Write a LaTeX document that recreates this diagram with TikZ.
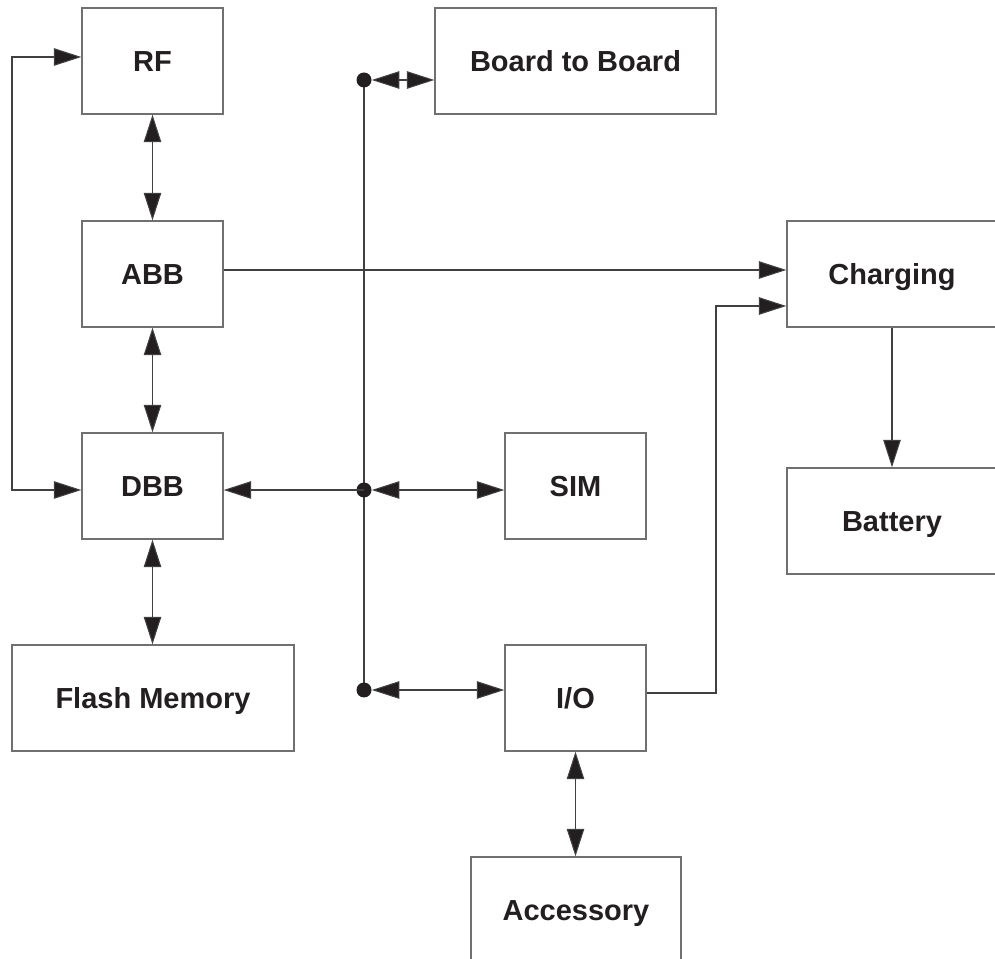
\documentclass[tikz,border=0pt]{standalone}
\usepackage{fontspec}
\setmainfont{Liberation Sans}
\usetikzlibrary{arrows.meta,calc}
\definecolor{ink}{HTML}{231F20}
\definecolor{boxline}{HTML}{707070}
\definecolor{wire}{HTML}{404040}
\tikzset{
  box/.style={draw=boxline, line width=0.8pt, rectangle, inner sep=0pt,
    minimum width=2.82cm, minimum height=2.12cm, text height=12pt, text depth=0pt,
    font=\fontsize{16.5}{19}\selectfont\bfseries, text=ink},
  tri/.tip={Triangle[length=0.55cm,width=0.35cm]},
  wireline/.style={draw=wire, line width=0.6pt},
  one/.style={wireline, -{tri[fill=ink]}},
  both/.style={wireline, {tri[fill=ink]}-{tri[fill=ink]}},
  dotnode/.style={circle, fill=ink, inner sep=0pt, minimum size=0.3cm}
}
\begin{document}
\begin{tikzpicture}[x=0.02cm, y=-0.02cm]
\useasboundingbox (0,0) rectangle (995,959);
\clip (0,0) rectangle (995,959);
% boxes
\node[box] (rf) at (152.5,61) {RF};
\node[box, minimum width=5.62cm] (btb) at (575.5,61) {Board to Board};
\node[box] (abb) at (152.5,274) {ABB};
\node[box, minimum width=4.2cm] (chg) at (892,274) {Charging};
\node[box] (dbb) at (152.5,486) {DBB};
\node[box] (sim) at (575.5,486) {SIM};
\node[box, minimum width=4.2cm] (bat) at (892,521) {Battery};
\node[box, minimum width=5.64cm] (flash) at (153,698) {Flash Memory};
\node[box] (io) at (575.5,698) {I/O};
\node[box, minimum width=4.2cm] (acc) at (576,910) {Accessory};
% bus
\coordinate (b1) at (364,80);
\coordinate (b2) at (364,490);
\coordinate (b3) at (364,690);
\draw[wireline] (b1) -- (b3);
\node[dotnode] (d1) at (b1) {};
\node[dotnode] (d2) at (b2) {};
\node[dotnode] (d3) at (b3) {};
% vertical links
\draw[both] (rf.south) -- (abb.north);
\draw[both] (abb.south) -- (dbb.north);
\draw[both] (dbb.south) -- (flash.north -| dbb.south);
\draw[both] (io.south) -- (acc.north -| io.south);
\draw[one] (chg.south) -- (bat.north);
% left loop
\coordinate (l1) at (12,57);
\coordinate (l2) at (12,490);
\draw[both] (rf.west |- l1) -- (l1) -- (l2) -- (dbb.west |- l2);
% ABB to Charging
\draw[one] (abb.east |- 0,270) -- (chg.west |- 0,270);
% bus connections
\draw[both] (d1.east) -- (btb.west |- d1);
\draw[one] (d2.center) -- (dbb.east |- d2);
\draw[both] (d2.east) -- (sim.west |- d2);
\draw[both] (d3.east) -- (io.west |- d3);
% I/O to Charging
\coordinate (k1) at (716,693);
\coordinate (k2) at (716,306);
\draw[one] (io.east |- k1) -- (k1) -- (k2) -- (chg.west |- k2);
\end{tikzpicture}
\end{document}
